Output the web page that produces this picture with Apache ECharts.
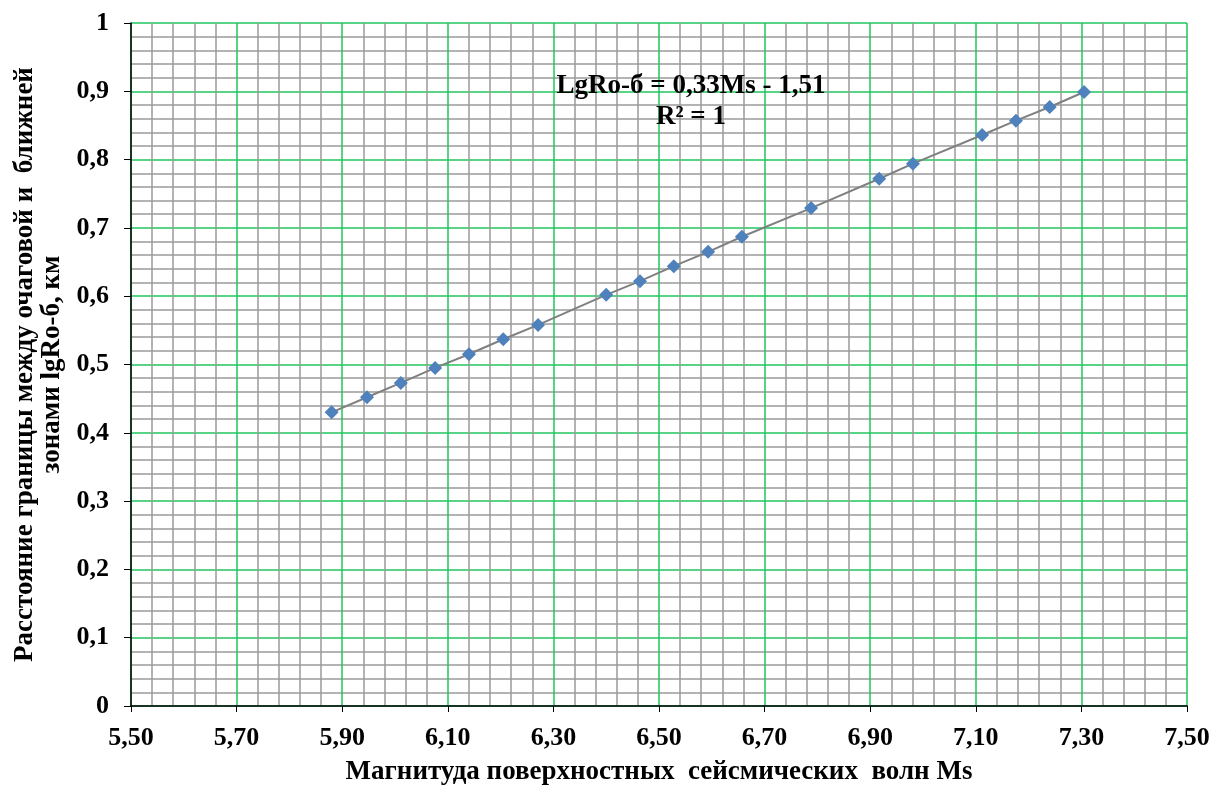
<!DOCTYPE html>
<html lang="ru">
<head>
<meta charset="UTF-8">
<title>LgRo-б</title>
<style>
  html, body { margin: 0; padding: 0; background: #fff; }
  #chart { width: 1215px; height: 789px; }
</style>
</head>
<body>
<div id="chart"></div>
<script src="https://cdn.jsdelivr.net/npm/echarts@6/dist/echarts.min.js"></script>
<script>
// magnitude Ms
var msValues = [5.88, 5.947, 6.011, 6.076, 6.14, 6.205, 6.271, 6.40, 6.464, 6.528,
                6.593, 6.657, 6.788, 6.917, 6.981, 7.112, 7.176, 7.24, 7.305];
// lgRo-б
var lgRo = [0.430, 0.452, 0.473, 0.495, 0.515, 0.537, 0.558, 0.602, 0.622, 0.644,
            0.665, 0.687, 0.729, 0.772, 0.794, 0.836, 0.857, 0.877, 0.899];

var equationText = 'LgRo-б = 0,33Ms - 1,51';
var r2Text = 'R² = 1';
var xTitle = 'Магнитуда поверхностных  сейсмических  волн Ms';
var yTitle = 'Расстояние границы между очаговой и  ближней\nзонами lgRo-б, км';

var font = '"Liberation Serif", "Times New Roman", serif';
var pts = msValues.map(function (x, i) { return [x, lgRo[i]]; });

var chart = echarts.init(document.getElementById('chart'));
chart.setOption({
    animation: false,
    backgroundColor: '#fff',
    textStyle: { fontFamily: font },
    grid: { left: 131, right: 28, top: 23, bottom: 83, outerBoundsMode: 'none', containLabel: false },
    title: {
        text: equationText + '\n' + r2Text,
        left: 686, top: 66,
        textAlign: 'center',
        textStyle: { fontFamily: font, fontSize: 27, fontWeight: 'bold', color: '#000', lineHeight: 31 }
    },
    xAxis: {
        type: 'value', min: 5.5, max: 7.5, interval: 0.2,
        name: xTitle, nameLocation: 'middle', nameGap: 53,
        nameTextStyle: { fontFamily: font, fontSize: 27, fontWeight: 'bold', color: '#000' },
        axisLine: { show: true, lineStyle: { color: '#000', width: 1.5 } },
        axisTick: { show: true, length: 6, lineStyle: { color: '#000' } },
        axisLabel: {
            margin: 19, fontFamily: font, fontSize: 26, fontWeight: 'bold', color: '#000',
            formatter: function (v) { return v.toFixed(2).replace('.', ','); }
        },
        splitLine: { show: true, lineStyle: { color: '#22c55e', width: 1.5 } },
        minorTick: { show: false, splitNumber: 5 },
        minorSplitLine: { show: true, lineStyle: { color: '#9a9a9a', width: 1.5 } }
    },
    yAxis: {
        type: 'value', min: 0, max: 1, interval: 0.1,
        name: yTitle, nameLocation: 'middle', nameGap: 63, nameRotate: 90,
        nameTextStyle: { fontFamily: font, fontSize: 27, fontWeight: 'bold', color: '#000', lineHeight: 27 },
        axisLine: { show: true, lineStyle: { color: '#000', width: 1.5 } },
        axisTick: { show: true, length: 7, lineStyle: { color: '#000' } },
        axisLabel: {
            margin: 22, fontFamily: font, fontSize: 26, fontWeight: 'bold', color: '#000',
            formatter: function (v) {
                if (v === 0) return '0';
                if (Math.abs(v - 1) < 1e-9) return '1';
                return v.toFixed(1).replace('.', ',');
            }
        },
        splitLine: { show: true, lineStyle: { color: '#22c55e', width: 1.5 } },
        minorTick: { show: false, splitNumber: 5 },
        minorSplitLine: { show: true, lineStyle: { color: '#9a9a9a', width: 1.5 } }
    },
    series: [{
        type: 'line',
        data: pts,
        symbol: 'diamond',
        symbolSize: 14,
        itemStyle: { color: '#4f81bd' },
        lineStyle: { color: '#808080', width: 2 },
        z: 5
    }]
});
</script>
</body>
</html>
